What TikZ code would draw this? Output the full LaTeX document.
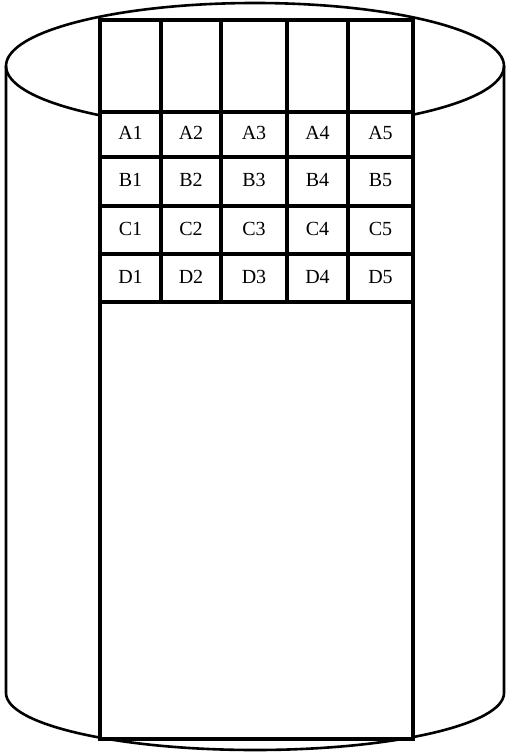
\documentclass[tikz,border=0pt]{standalone}
\usepackage{fontspec}
\setmainfont{Liberation Serif}
\begin{document}
\begin{tikzpicture}[x=1pt,y=-1pt,
  outline/.style={line width=2.6pt, line join=round},
  cell/.style={draw, fill=white, line width=3.2pt, inner sep=0pt,
    font=\fontsize{20}{20}\selectfont},
]
\useasboundingbox (0,0) rectangle (506,754);
% cylinder body and top rim
\draw[outline] (6,66) -- (6,693) arc[start angle=180,end angle=0,x radius=249,y radius=57] -- (504,66);
\draw[outline] (255,66) ellipse [x radius=249, y radius=63];
% top empty cells
\foreach \c/\xa/\xb in {1/100/161, 2/161/221, 3/221/287, 4/287/348, 5/348/413} {
  \node[cell, minimum width={\xb-\xa}, minimum height=92] (T\c) at ({(\xa+\xb)/2},66) {};
}
% lower block
\node[cell, minimum width=313, minimum height=437] (base) at (256.5,520.5) {};
% labelled cells
\foreach \r/\ya/\yb in {A/112/157, B/157/206, C/206/254, D/254/302} {
  \foreach \c/\xa/\xb in {1/100/161, 2/161/221, 3/221/287, 4/287/348, 5/348/413} {
    \node[cell, minimum width={\xb-\xa}, minimum height={\yb-\ya}] (\r\c) at ({(\xa+\xb)/2},{(\ya+\yb)/2}) {\raisebox{3pt}{\r\c}};
  }
}
\end{tikzpicture}
\end{document}
